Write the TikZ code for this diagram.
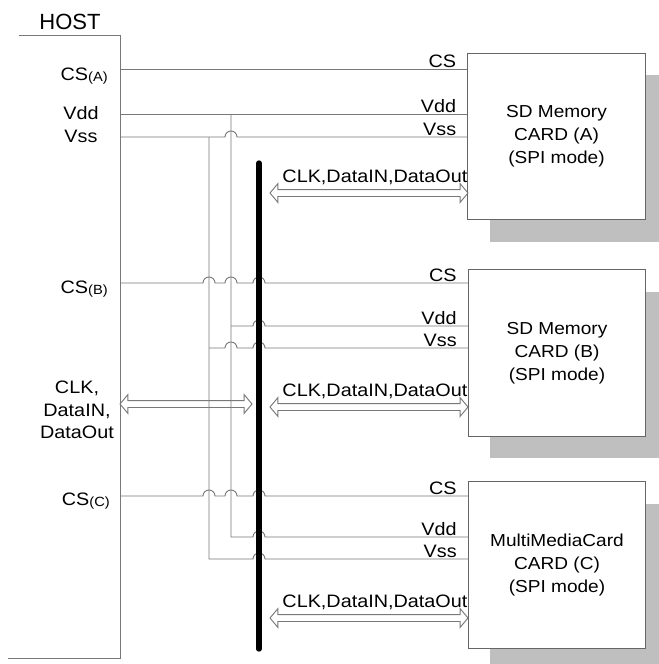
\documentclass[tikz,border=0pt]{standalone}
\usepackage{fontspec}
\setmainfont{Liberation Sans}[FakeStretch=1.1]
\newfontfamily\hostfont{Liberation Sans}
\usetikzlibrary{shapes.arrows, shadows, calc}
\definecolor{WireGray}{rgb}{0.47,0.47,0.47}
\definecolor{ShadowGray}{rgb}{0.75,0.75,0.75}
% a small bump where a wire jumps over another one
\newcommand{\wirehop}[2]{-- ({#1-6},#2) arc[start angle=180, end angle=360, radius=6]}
\tikzset{
  wire/.style={draw=WireGray, line width=0.7pt},
  card/.style={draw=black!60, line width=0.8pt, fill=white, minimum width=133pt, minimum height=125pt,
    align=center, font=\fontsize{13}{17.25}\selectfont,
    drop shadow={shadow xshift=16.5pt, shadow yshift=-16.5pt, fill=ShadowGray, opacity=1}},
  pinlbl/.style={anchor=base east, inner sep=0pt, font=\fontsize{13.5}{17}\selectfont},
  cardpin/.style={pinlbl, xshift=-8pt, yshift=1.5pt},
  busarrow/.style={double arrow, draw=WireGray, line width=0.7pt, minimum width=13.5pt,
    double arrow head extend=4.5pt, double arrow tip angle=100, inner xsep=0pt, inner ysep=2.25pt},
}
\newcommand{\sub}[1]{\raisebox{-1pt}{\fontsize{10}{12}\selectfont(#1)}}
\begin{document}
\begin{tikzpicture}[x=0.75pt, y=-0.75pt]
    \useasboundingbox (0,0) rectangle (658,664);
    % cards
    \node[card] (cardA) at (556.5,136.5) {SD Memory\\CARD (A)\\(SPI mode)};
    \node[card] (cardB) at (557,353) {SD Memory\\CARD (B)\\(SPI mode)};
    \node[card] (cardC) at (557,565) {MultiMediaCard\\CARD (C)\\(SPI mode)};
    % host
    \draw[wire] (19,35) -- (120,35) -- (120,658) -- (8,658);
    \node[anchor=base, font=\hostfont\fontsize{16.5}{20}\selectfont] (host) at (70,29) {HOST};
    \coordinate (csA) at (120,69);  \coordinate (vddA) at (120,114); \coordinate (vssA) at (120,137);
    \coordinate (csB) at (120,283); \coordinate (csC) at (120,496);
    \node[pinlbl] (lcsA) at (108,80) {CS\sub{A}};
    \node[pinlbl, anchor=base] (lvdd) at (81,119) {Vdd};
    \node[pinlbl, anchor=base] (lvss) at (81,142) {Vss};
    \node[pinlbl] (lcsB) at (108,293) {CS\sub{B}};
    \node[pinlbl] (lcsC) at (110,505) {CS\sub{C}};
    \node[pinlbl, anchor=center, align=center] (lclk) at (77,410) {CLK,\\DataIN,\\DataOut};
    % chip selects
    \draw[wire] (csA) -- (cardA.west |- csA) node[cardpin] {CS};
    \draw[wire] (csB) \wirehop{209}{283} \wirehop{231}{283} \wirehop{259}{283} -- (cardB.west |- csB) node[cardpin] {CS};
    \draw[wire] (csC) \wirehop{209}{496} \wirehop{231}{496} \wirehop{259}{496} -- (cardC.west |- csC) node[cardpin] {CS};
    % supply
    \draw[wire] (vddA) -- (cardA.west |- vddA) node[cardpin] {Vdd};
    \draw[wire] (vssA) \wirehop{231}{137} -- (cardA.west |- vssA) node[cardpin] {Vss};
    \draw[wire] (231,114) -- (231,537) \wirehop{259}{537} -- (cardC.west |- 0,537) node[cardpin] {Vdd};
    \draw[wire] (209,137) -- (209,559) \wirehop{259}{559} -- (cardC.west |- 0,559) node[cardpin] {Vss};
    \draw[wire] (231,326) \wirehop{259}{326} -- (cardB.west |- 0,326) node[cardpin] {Vdd};
    \draw[wire] (209,348) \wirehop{231}{348} \wirehop{259}{348} -- (cardB.west |- 0,348) node[cardpin] {Vss};
    % data bus
    \draw[line width=4pt, line cap=round] (259,163) coordinate (busTop) -- (259,649) coordinate (busBot);
    \node[busarrow, minimum height=99pt] (clkH) at (186,404) {};
    \node[busarrow, minimum height=148.5pt] (clkA) at (369,193) {};
    \node[busarrow, minimum height=148.5pt] (clkB) at (369,407) {};
    \node[busarrow, minimum height=148.5pt] (clkC) at (369,618) {};
    \foreach \c in {clkA,clkB,clkC}
      \node[pinlbl] at ($(\c.east)+(-1,-11)$) {CLK,DataIN,DataOut};
\end{tikzpicture}
\end{document}
